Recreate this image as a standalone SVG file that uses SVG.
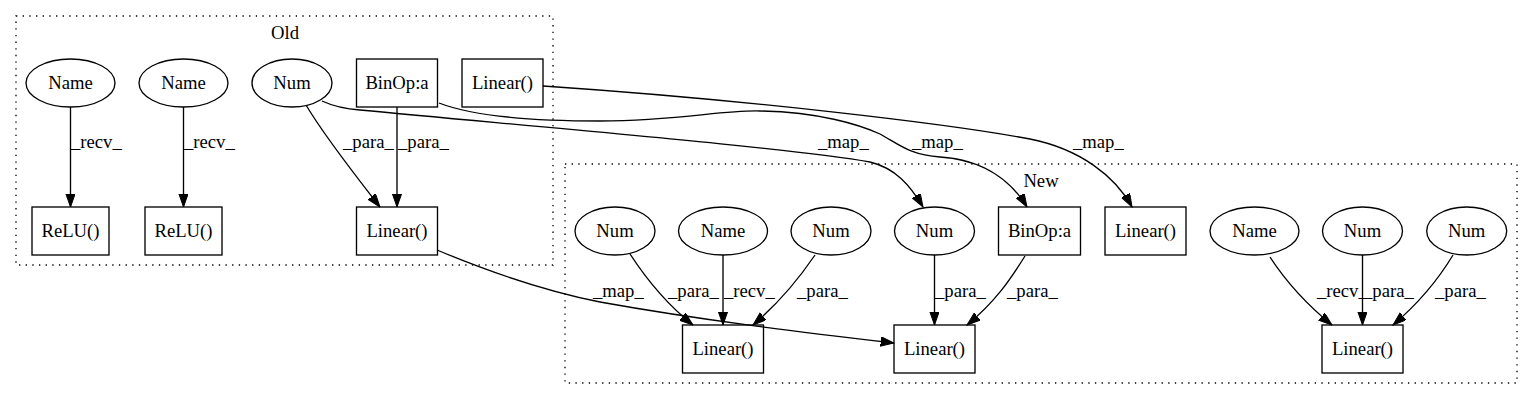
<svg xmlns="http://www.w3.org/2000/svg" width="1533" height="400" viewBox="0 0 1533 400" font-family="'Liberation Serif', 'Times New Roman', serif">
<style>
  .bg{fill:#fff}
  .cl{fill:none;stroke:#000;stroke-width:1.33;stroke-dasharray:1.33 5.33}
  .nd{fill:none;stroke:#000;stroke-width:1.33}
  .t{font-family:'Liberation Serif','Times New Roman',serif;font-size:18.67px;fill:#000}
  .c{text-anchor:middle}
  .e{fill:none;stroke:#000;stroke-width:1.33;marker-end:url(#ah)}
</style>
<defs>
  <marker id="ah" markerWidth="14" markerHeight="10" refX="13.3" refY="4.67" orient="auto" markerUnits="userSpaceOnUse">
    <path d="M0,0 L13.3,4.67 L0,9.33 Z" fill="#000" stroke="#000" stroke-width="1"/>
  </marker>
</defs>
<rect class="bg" x="0" y="0" width="1533" height="400"/>

<g id="cluster_old">
  <rect class="cl" x="16" y="16" width="537" height="249"/>
  <text class="t c" x="285" y="39">Old</text>
</g>
<g id="cluster_new">
  <rect class="cl" x="565" y="164" width="952" height="219"/>
  <text class="t c" x="1041" y="187">New</text>
</g>

<g id="connectors">
  <path class="e" d="M70.5,107 L70.5,207"/>
  <text class="t" x="71" y="148">_recv_</text>
  <path class="e" d="M183.5,107 L183.5,207"/>
  <text class="t" x="184" y="148">_recv_</text>
  <path class="e" d="M306,105 C325,137 355,175 380,207"/>
  <text class="t" x="343" y="148">_para_</text>
  <path class="e" d="M397,107 L397,207"/>
  <text class="t" x="398" y="148">_para_</text>

  <path class="e" d="M543,86 C750,100 950,124 1030,139 C1080,149 1115,176 1132,207"/>
  <text class="t" x="1073" y="148">_map_</text>
  <path class="e" d="M322,101 C335,107 345,109 360,110 C550,128 790,148 870,162 C895,168 910,185 923,207"/>
  <text class="t" x="818" y="148">_map_</text>
  <path class="e" d="M439,103 C470,115 520,121 600,121 C680,121 720,110 760,111 C820,112 860,125 880,134 C900,145 910,155 940,157 C985,160 1012,182 1027,207"/>
  <text class="t" x="912" y="148">_map_</text>
  <path class="e" d="M437,250 C480,268 540,290 600,302 C700,320 800,332 894,343"/>
  <text class="t" x="593" y="297">_map_</text>

  <path class="e" d="M630,254 C645,277 665,303 693,325"/>
  <text class="t" x="668" y="297">_para_</text>
  <path class="e" d="M723,255 L723,325"/>
  <text class="t" x="724" y="297">_recv_</text>
  <path class="e" d="M815,255 C798,280 780,302 753,325"/>
  <text class="t" x="797" y="297">_para_</text>
  <path class="e" d="M934.5,255 L934.5,325"/>
  <text class="t" x="935" y="297">_para_</text>
  <path class="e" d="M1025,256 C1010,280 995,302 967,325"/>
  <text class="t" x="1007" y="297">_para_</text>

  <path class="e" d="M1270,257 C1285,280 1305,303 1332,325"/>
  <text class="t" x="1317" y="297">_recv_</text>
  <path class="e" d="M1362.5,255 L1362.5,325"/>
  <text class="t" x="1363" y="297">_para_</text>
  <path class="e" d="M1453,255 C1438,280 1420,302 1393,325"/>
  <text class="t" x="1435" y="297">_para_</text>
</g>

<g id="old_name1"><ellipse class="nd" cx="70.5" cy="83" rx="44.5" ry="24"/><text class="t c" x="70.5" y="89">Name</text></g>
<g id="old_name2"><ellipse class="nd" cx="183.5" cy="83" rx="44.5" ry="24"/><text class="t c" x="183.5" y="89">Name</text></g>
<g id="old_num"><ellipse class="nd" cx="292" cy="83" rx="40" ry="24"/><text class="t c" x="292" y="89">Num</text></g>
<g id="old_binop"><rect class="nd" x="356.5" y="59" width="81" height="48"/><text class="t c" x="397" y="89">BinOp:a</text></g>
<g id="old_linear_top"><rect class="nd" x="462" y="59" width="81" height="48"/><text class="t c" x="502.5" y="89">Linear()</text></g>
<g id="old_relu1"><rect class="nd" x="32" y="207" width="77" height="48"/><text class="t c" x="70.5" y="237">ReLU()</text></g>
<g id="old_relu2"><rect class="nd" x="145" y="207" width="77" height="48"/><text class="t c" x="183.5" y="237">ReLU()</text></g>
<g id="old_linear"><rect class="nd" x="356.5" y="207" width="81" height="48"/><text class="t c" x="397" y="237">Linear()</text></g>

<g id="new_num1"><ellipse class="nd" cx="615" cy="231" rx="40" ry="24"/><text class="t c" x="615" y="237">Num</text></g>
<g id="new_name1"><ellipse class="nd" cx="723" cy="231" rx="44.5" ry="24"/><text class="t c" x="723" y="237">Name</text></g>
<g id="new_num2"><ellipse class="nd" cx="831" cy="231" rx="40" ry="24"/><text class="t c" x="831" y="237">Num</text></g>
<g id="new_num3"><ellipse class="nd" cx="934.5" cy="231" rx="40" ry="24"/><text class="t c" x="934.5" y="237">Num</text></g>
<g id="new_binop"><rect class="nd" x="998.5" y="207" width="82" height="48"/><text class="t c" x="1039.5" y="237">BinOp:a</text></g>
<g id="new_linear_top"><rect class="nd" x="1105" y="207" width="81" height="48"/><text class="t c" x="1145.5" y="237">Linear()</text></g>
<g id="new_name2"><ellipse class="nd" cx="1254.5" cy="231" rx="44.5" ry="24"/><text class="t c" x="1254.5" y="237">Name</text></g>
<g id="new_num4"><ellipse class="nd" cx="1362.5" cy="231" rx="40" ry="24"/><text class="t c" x="1362.5" y="237">Num</text></g>
<g id="new_num5"><ellipse class="nd" cx="1466.7" cy="231" rx="40" ry="24"/><text class="t c" x="1466.7" y="237">Num</text></g>
<g id="new_linear1"><rect class="nd" x="682.5" y="325" width="81" height="48"/><text class="t c" x="723" y="355">Linear()</text></g>
<g id="new_linear2"><rect class="nd" x="894" y="325" width="81" height="48"/><text class="t c" x="934.5" y="355">Linear()</text></g>
<g id="new_linear3"><rect class="nd" x="1322" y="325" width="81" height="48"/><text class="t c" x="1362.5" y="355">Linear()</text></g>
</svg>
